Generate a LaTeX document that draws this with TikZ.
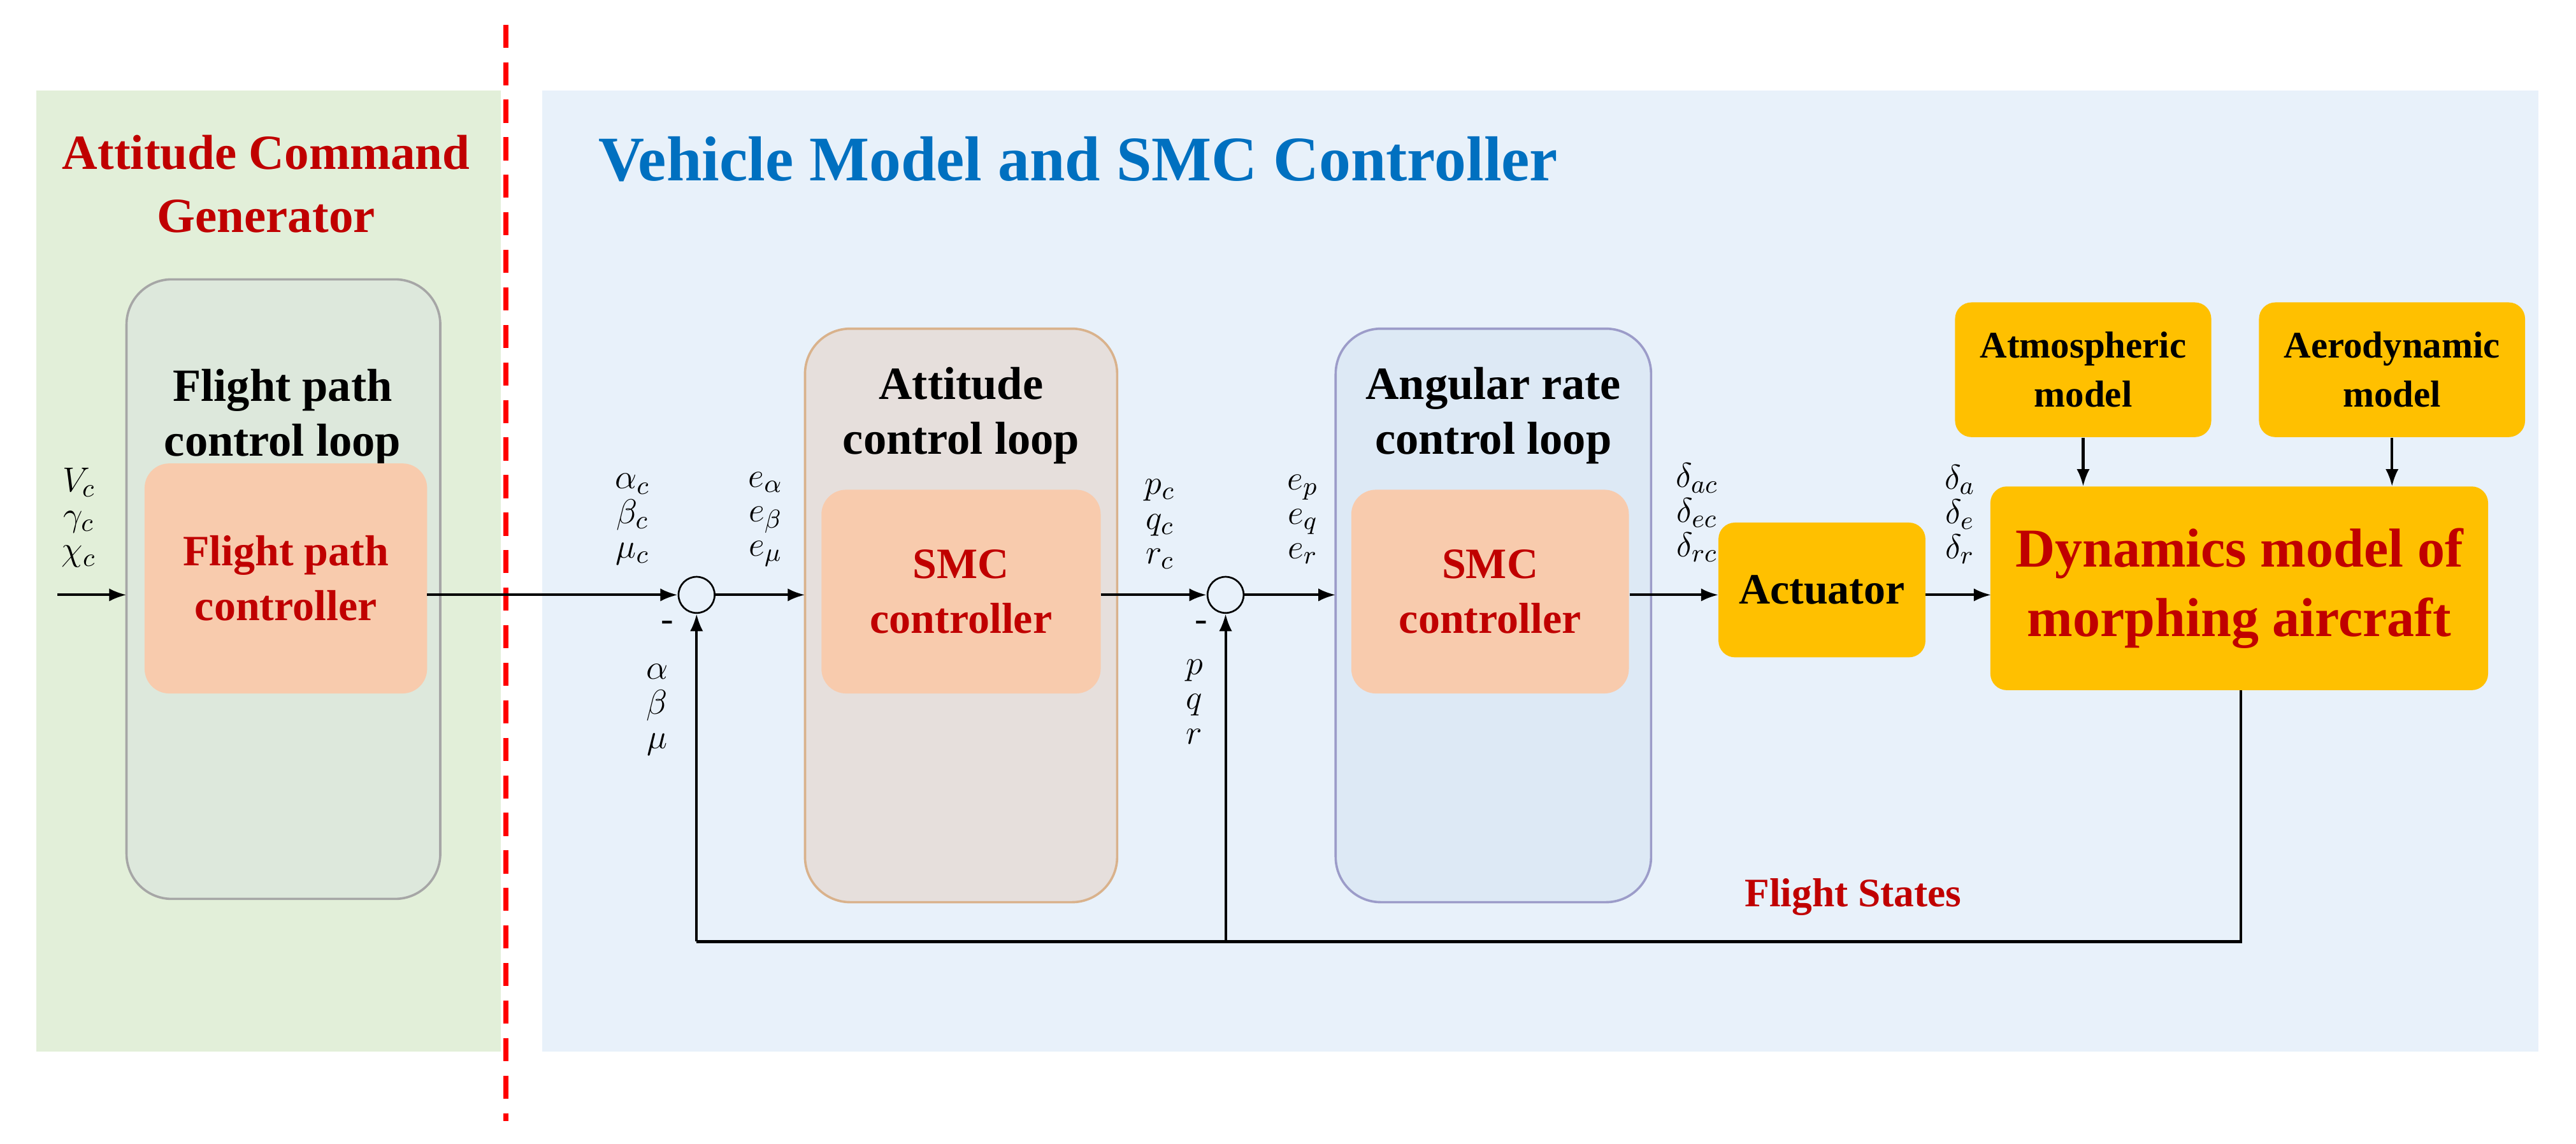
\documentclass[tikz,border=0pt]{standalone}
\usepackage{fontspec}
\setmainfont{Liberation Serif}
\usetikzlibrary{arrows.meta}
\definecolor{gbg}{HTML}{E2EFD9}
\definecolor{bbg}{HTML}{E8F1FA}
\definecolor{ored}{HTML}{C00000}
\definecolor{oblue}{HTML}{0070C0}
\definecolor{salmon}{HTML}{F8CBAD}
\definecolor{gold}{HTML}{FFC000}
\definecolor{l1fill}{HTML}{DDE8DC}
\definecolor{l2fill}{HTML}{E6DFDC}
\definecolor{l3fill}{HTML}{DDE9F5}
\begin{document}
\begin{tikzpicture}[x=0.02cm,y=-0.02cm,
  loop/.style={draw=#1,rounded corners=0.55cm,line width=0.8pt},
  inner/.style={fill=salmon,rounded corners=0.3cm,text=ored,font=\bfseries\fontsize{15}{19}\selectfont,align=center},
  ttl/.style={font=\bfseries\fontsize{16}{19}\selectfont,align=center},
  ybox/.style={fill=gold,rounded corners=0.2cm,font=\bfseries\fontsize{13}{17}\selectfont,align=center},
  sum/.style={circle,draw,line width=0.6pt,minimum size=0.44cm,inner sep=0pt},
  arr/.style={-{Latex[length=6pt,width=4.5pt]},line width=0.9pt},
  ln/.style={line width=0.9pt},
  lab/.style={font=\fontsize{13}{15}\selectfont,align=center}]
\useasboundingbox (0,0) rectangle (1568,696);
\fill[gbg] (22,55) rectangle (305,640);
\fill[bbg] (330,55) rectangle (1545,640);
\draw[red,dashed,line width=1.8pt,dash pattern=on 8pt off 5pt] (308,15) -- (308,682);
\node[text=ored,font=\bfseries\fontsize{17}{22}\selectfont,align=center] (acg) at (162,112) {Attitude Command\\Generator};
\node[text=oblue,font=\bfseries\fontsize{22}{26}\selectfont,anchor=west] (vm) at (358,97) {Vehicle Model and SMC Controller};
% loop boxes
\draw[loop=gray!70,fill=l1fill] (77,170) rectangle (268,547);
\node[ttl] (t1) at (172,254) {Flight path\\control loop};
\node[inner,minimum width=3.44cm,minimum height=2.8cm] (fpc) at (174,352) {Flight path\\controller};
\draw[loop=brown!60,fill=l2fill] (490,200) rectangle (680,549);
\node[ttl] (t2) at (585,253) {Attitude\\control loop};
\node[inner,minimum width=3.4cm,minimum height=2.48cm] (smc1) at (585,360) {SMC\\controller};
\draw[loop=blue!30!gray!60,fill=l3fill] (813,200) rectangle (1005,549);
\node[ttl] (t3) at (909,253) {Angular rate\\control loop};
\node[inner,minimum width=3.38cm,minimum height=2.48cm] (smc2) at (907,360) {SMC\\controller};
% yellow boxes
\node[ybox,minimum width=2.52cm,minimum height=1.64cm] (act) at (1109,359) {\fontsize{15}{19}\selectfont Actuator};
\node[ybox,minimum width=6.06cm,minimum height=2.48cm,text=ored,font=\bfseries\fontsize{19}{24}\selectfont] (dyn) at (1363,358) {Dynamics model of\\morphing aircraft};
\node[ybox,minimum width=3.12cm,minimum height=1.64cm] (atm) at (1268,225) {Atmospheric\\model};
\node[ybox,minimum width=3.24cm,minimum height=1.64cm] (aer) at (1456,225) {Aerodynamic\\model};
% sums
\node[sum] (s1) at (424,362) {};
\node[sum] (s2) at (746,362) {};
% signals
\coordinate (in) at (35,362);
\coordinate (b1w) at (77,362);
\coordinate (b2w) at (490,362);
\coordinate (b3w) at (813,362);
\draw[arr] (in) -- (b1w);
\draw[arr] (260,362) -- (s1.west);
\draw[arr] (s1.east) -- (b2w);
\draw[arr] (670,362) -- (s2.west);
\draw[arr] (s2.east) -- (b3w);
\draw[arr] (992,362) -- (1046,362);
\draw[arr] (1172,362) -- (1212,362);
\draw[arr] (atm.south) -- (1268,296);
\draw[arr] (aer.south) -- (1456,296);
\coordinate (fb) at (1364,573);
\coordinate (fj) at (746,573);
\draw[ln] (1364,420) -- (fb) -- (424,573);
\draw[arr] (424,573) -- (s1.south);
\draw[arr] (fj) -- (s2.south);
% labels
\node[lab] (l1) at (48,315) {$V_c$\\[-3pt]$\gamma_c$\\[-3pt]$\chi_c$};
\node[lab] (l2) at (385,316) {$\alpha_c$\\[-3pt]$\beta_c$\\[-3pt]$\mu_c$};
\node[lab] (l3) at (466,316) {$e_\alpha$\\[-3pt]$e_\beta$\\[-3pt]$e_\mu$};
\node[lab] (l4) at (406,381) {-};
\node[lab] (l5) at (400,432) {$\alpha$\\[-3pt]$\beta$\\[-3pt]$\mu$};
\node[lab] (l6) at (706,319) {$p_c$\\[-3pt]$q_c$\\[-3pt]$r_c$};
\node[lab] (l7) at (731,381) {-};
\node[lab] (l8) at (727,427) {$p$\\[-3pt]$q$\\[-3pt]$r$};
\node[lab] (l9) at (793,316) {$e_p$\\[-3pt]$e_q$\\[-3pt]$e_r$};
\node[lab] (l10) at (1033,312) {$\delta_{ac}$\\[-3pt]$\delta_{ec}$\\[-3pt]$\delta_{rc}$};
\node[lab] (l11) at (1193,313) {$\delta_a$\\[-3pt]$\delta_e$\\[-3pt]$\delta_r$};
\node[text=ored,font=\bfseries\fontsize{14}{17}\selectfont] (fs) at (1128,546) {Flight States};
\end{tikzpicture}
\end{document}
